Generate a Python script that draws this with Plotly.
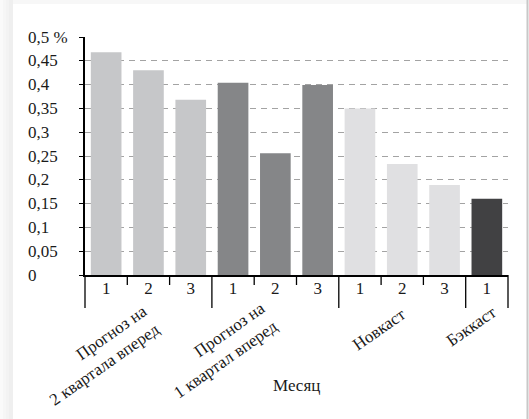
import plotly.graph_objects as go

# Monthly values, % (three forecast/nowcast groups plus backcast)
groups = ["Прогноз на<br>2 квартала вперед", "Прогноз на<br>1 квартал вперед", "Новкаст", "Бэккаст"]
months = ["1", "2", "3", "1", "2", "3", "1", "2", "3", "1"]
group_of_bar = [0, 0, 0, 1, 1, 1, 2, 2, 2, 3]
values = [0.468, 0.430, 0.368, 0.404, 0.256, 0.399, 0.350, 0.233, 0.189, 0.160]
group_colors = ["#c6c7c9", "#858688", "#e0e0e2", "#414143"]
y_ticks = [0, 0.05, 0.1, 0.15, 0.2, 0.25, 0.3, 0.35, 0.4, 0.45, 0.5]
y_tick_text = ["0", "0,05", "0,1", "0,15", "0,2", "0,25", "0,3", "0,35", "0,4", "0,45", "0,5 %"]
x_title = "Месяц"

W, H = 529, 419
L, R, T, B = 85, 21, 37, 144
PW, PH = W - L - R, H - T - B

def px_x(p):
    return (p - L) / PW

def px_y(p):
    return (H - B - p) / PH

FONT = "Liberation Serif"
TXT = "#1a1a1a"

xs = list(range(len(values)))
fig = go.Figure(go.Bar(
    x=xs, y=values,
    marker=dict(color=[group_colors[g] for g in group_of_bar], line=dict(width=0)),
    width=0.725,
    hoverinfo="skip",
))

shapes = []
# card shadow on the left and top edges, thin frame line on the right
for i, c in enumerate(["#fafafa", "#f6f6f6", "#f3f3f3", "#efefef"]):
    shapes.append(dict(type="rect", xref="paper", yref="paper",
                       x0=px_x(i * 3), x1=px_x(13), y0=px_y(H), y1=px_y(0),
                       fillcolor=c, line=dict(width=0), layer="below"))
shapes.append(dict(type="rect", xref="paper", yref="paper",
                   x0=px_x(13), x1=px_x(W - 2), y0=px_y(4), y1=px_y(0),
                   fillcolor="#f7f7f7", line=dict(width=0), layer="below"))
shapes.append(dict(type="line", xref="paper", yref="paper",
                   x0=px_x(W - 1.5), x1=px_x(W - 1.5), y0=px_y(H), y1=px_y(0),
                   line=dict(color="#c8c8c8", width=2), layer="below"))

# category dividers under the x axis: short between months, long between groups
n = len(values)
for k in range(n + 1):
    edge = k - 0.5
    is_group_edge = k == 0 or k == n or group_of_bar[k] != group_of_bar[k - 1]
    bottom = 308 if is_group_edge else 285
    shapes.append(dict(type="line", xref="paper", yref="paper",
                       x0=(edge + 0.5) / n, x1=(edge + 0.5) / n,
                       y0=0, y1=px_y(bottom),
                       line=dict(color="#000000", width=1.3)))

annotations = []
# y tick labels, left-aligned
for v, t in zip(y_ticks, y_tick_text):
    annotations.append(dict(text=t, xref="paper", yref="y", x=px_x(26), y=v,
                            xanchor="left", yanchor="middle", showarrow=False,
                            font=dict(family=FONT, size=17, color=TXT)))

# rotated group labels
group_centers = [(98, 355), (219, 350), (379, 329), (471, 326)]
for g, (cx, cy) in zip(groups, group_centers):
    annotations.append(dict(text=g, xref="paper", yref="paper",
                            x=px_x(cx), y=px_y(cy), xanchor="center", yanchor="middle",
                            textangle=-35, align="right", showarrow=False,
                            font=dict(family=FONT, size=17, color=TXT)))

annotations.append(dict(text=x_title, xref="paper", yref="paper", x=0.5, y=px_y(385),
                        xanchor="center", yanchor="middle", showarrow=False,
                        font=dict(family=FONT, size=17, color=TXT)))

fig.update_layout(
    width=W, height=H,
    margin=dict(l=L, r=R, t=T, b=B),
    paper_bgcolor="#ffffff", plot_bgcolor="#ffffff",
    showlegend=False,
    shapes=shapes, annotations=annotations,
    font=dict(family=FONT, size=17, color=TXT),
    xaxis=dict(range=[-0.5, n - 0.5], tickmode="array", tickvals=xs, ticktext=months,
               showgrid=False, zeroline=False, showline=True, linecolor="#000000",
               linewidth=1.5, ticks="", ticklabelstandoff=-3,
               tickfont=dict(family=FONT, size=17, color=TXT)),
    yaxis=dict(range=[0, 0.5], tickmode="array", tickvals=y_ticks, showticklabels=False,
               showgrid=True, gridcolor="#a3a3a3", gridwidth=1, griddash="6px,5px",
               zeroline=False, showline=True, linecolor="#000000", linewidth=1.5,
               ticks="outside", ticklen=4, tickcolor="#000000", tickwidth=1),
)

fig.write_html("out.html")
